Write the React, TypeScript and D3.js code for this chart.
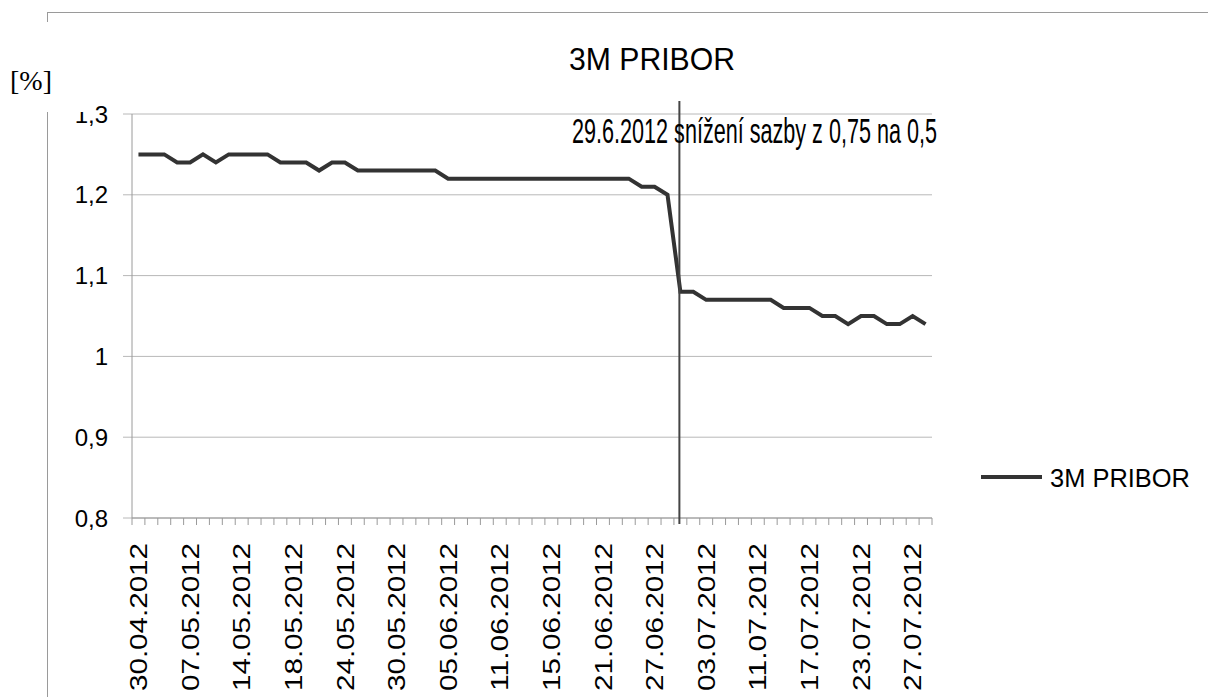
import React from "react";
import * as d3 from "d3";

const dates: string[] = [
  "30.04.2012","02.05.2012","03.05.2012","04.05.2012","07.05.2012","09.05.2012","10.05.2012","11.05.2012",
  "14.05.2012","15.05.2012","16.05.2012","17.05.2012","18.05.2012","21.05.2012","22.05.2012","23.05.2012",
  "24.05.2012","25.05.2012","28.05.2012","29.05.2012","30.05.2012","31.05.2012","01.06.2012","04.06.2012",
  "05.06.2012","06.06.2012","07.06.2012","08.06.2012","11.06.2012","12.06.2012","13.06.2012","14.06.2012",
  "15.06.2012","18.06.2012","19.06.2012","20.06.2012","21.06.2012","22.06.2012","25.06.2012","26.06.2012",
  "27.06.2012","28.06.2012","29.06.2012","02.07.2012","03.07.2012","04.07.2012","09.07.2012","10.07.2012",
  "11.07.2012","12.07.2012","13.07.2012","16.07.2012","17.07.2012","18.07.2012","19.07.2012","20.07.2012",
  "23.07.2012","24.07.2012","25.07.2012","26.07.2012","27.07.2012","30.07.2012",
];

const pribor: number[] = [
  1.25, 1.25, 1.25, 1.24, 1.24, 1.25, 1.24, 1.25,
  1.25, 1.25, 1.25, 1.24, 1.24, 1.24, 1.23, 1.24,
  1.24, 1.23, 1.23, 1.23, 1.23, 1.23, 1.23, 1.23,
  1.22, 1.22, 1.22, 1.22, 1.22, 1.22, 1.22, 1.22,
  1.22, 1.22, 1.22, 1.22, 1.22, 1.22, 1.22, 1.21,
  1.21, 1.20, 1.08, 1.08, 1.07, 1.07, 1.07, 1.07,
  1.07, 1.07, 1.06, 1.06, 1.06, 1.05, 1.05, 1.04,
  1.05, 1.05, 1.04, 1.04, 1.05, 1.04,
];

const yTicks: number[] = [0.8, 0.9, 1.0, 1.1, 1.2, 1.3];
const yTickLabels: string[] = ["0,8", "0,9", "1", "1,1", "1,2", "1,3"];
const labelEvery = 4;
const seriesName = "3M PRIBOR";
const titleText = "3M PRIBOR";
const annotationDate = "29.06.2012";
const annotationText = "29.6.2012 snížení sazby z 0,75 na 0,5";
const unitText = "[%]";

const SANS = "'Liberation Sans', Arial, sans-serif";

export default function App() {
  const W = 1208, H = 697;
  const left = 132, right = 932, top = 114, bottom = 518;

  const x = d3.scaleBand<string>().domain(dates).range([left, right]).padding(0);
  const bw = x.bandwidth();
  const cx = (d: string) => (x(d) as number) + bw / 2;
  const y = d3.scaleLinear().domain([0.8, 1.3]).range([bottom, top]);

  const line = d3
    .line<number>()
    .x((_, i) => cx(dates[i]))
    .y((v) => y(v));

  const annX = cx(annotationDate);

  return (
    <svg
      width={W}
      height={H}
      style={{ position: "absolute", left: 0, top: 0, background: "#fff" }}
      fontFamily={SANS}
    >
      <rect x={0} y={0} width={W} height={H} fill="#fff" />
      {/* outer border */}
      <line x1={47} y1={12.5} x2={W} y2={12.5} stroke="#9a9a9a" strokeWidth={1} />
      <line x1={47.5} y1={12} x2={47.5} y2={H} stroke="#9a9a9a" strokeWidth={1} />

      {/* gridlines + y ticks */}
      {yTicks.map((t) => (
        <line key={"g" + t} x1={left - 9} x2={right} y1={y(t)} y2={y(t)} stroke="#b8b8b8" strokeWidth={1} />
      ))}
      {/* y axis */}
      <line x1={left} x2={left} y1={top} y2={bottom} stroke="#9a9a9a" strokeWidth={1} />
      {/* x axis */}
      <line x1={left} x2={right} y1={bottom} y2={bottom} stroke="#9a9a9a" strokeWidth={1} />
      {d3.range(dates.length + 1).map((i) => (
        <line
          key={"xt" + i}
          x1={left + i * bw}
          x2={left + i * bw}
          y1={bottom}
          y2={bottom + 7}
          stroke="#9a9a9a"
          strokeWidth={1}
        />
      ))}

      {/* y tick labels */}
      {yTicks.map((t, i) => (
        <text key={"yl" + t} x={108} y={y(t)} dy="0.36em" textAnchor="end" fontSize={24} fill="#000">
          {yTickLabels[i]}
        </text>
      ))}

      {/* x tick labels */}
      {dates.map((d, i) =>
        i % labelEvery === 0 ? (
          <text
            key={"xl" + d}
            transform={`translate(${cx(d)},${bottom + 25}) rotate(-90)`}
            dy="0.36em"
            textAnchor="end"
            fontSize={24}
            textLength={148}
            lengthAdjust="spacingAndGlyphs"
            fill="#000"
          >
            {d}
          </text>
        ) : null
      )}

      {/* box of the unit label */}
      <rect x={0} y={22} width={92} height={90} fill="#fff" />
      <text x={10} y={90} fontSize={28} fontFamily="'Liberation Serif', 'Times New Roman', serif" fill="#000">
        {unitText}
      </text>

      {/* series */}
      <path d={line(pribor) || ""} fill="none" stroke="#333333" strokeWidth={4} strokeLinejoin="miter" />

      {/* annotation line */}
      <line x1={annX - 1} x2={annX - 1} y1={101} y2={524} stroke="#444" strokeWidth={2} />
      <text x={572} y={143} fontSize={35} textLength={365} lengthAdjust="spacingAndGlyphs" fill="#000">
        {annotationText}
      </text>

      {/* title */}
      <text x={652} y={70} textAnchor="middle" fontSize={32} textLength={166} lengthAdjust="spacingAndGlyphs" fill="#000">
        {titleText}
      </text>

      {/* legend */}
      <line x1={981} x2={1042} y1={477} y2={477} stroke="#333333" strokeWidth={4} />
      <text x={1050} y={487} fontSize={26} textLength={140} lengthAdjust="spacingAndGlyphs" fill="#000">
        {seriesName}
      </text>
    </svg>
  );
}
